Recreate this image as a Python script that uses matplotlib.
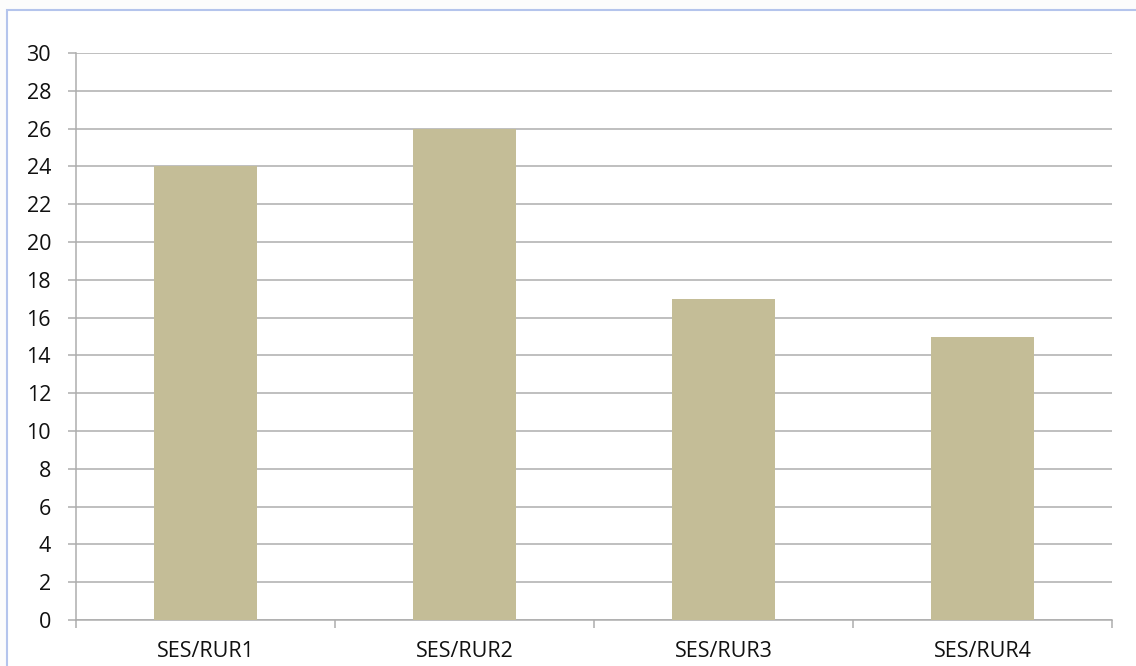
import matplotlib
matplotlib.use("Agg")
import matplotlib.pyplot as plt
from matplotlib.patches import Rectangle

categories = ["SES/RUR1", "SES/RUR2", "SES/RUR3", "SES/RUR4"]
values = [24, 26, 17, 15]
yticks = list(range(0, 31, 2))

plt.rcParams['font.family'] = ['Open Sans', 'DejaVu Sans']

W, H = 1136, 666
fig = plt.figure(figsize=(W / 100, H / 100), dpi=100)
fig.patch.set_facecolor('#FCFCFC')
fig.patches.append(Rectangle((6.5 / W, -0.1), 1.2, 1 - 10.5 / H + 0.1,
                             transform=fig.transFigure, facecolor='white',
                             edgecolor='#B4C4EC', linewidth=1.5, zorder=-10))

ax = fig.add_axes([76 / W, 1 - 620 / H, (1112 - 76) / W, (620 - 53) / H])
ax.set_facecolor('none')
x = list(range(len(categories)))
ax.bar(x, values, width=0.4, color='#C4BD97', zorder=3)
ax.set_xlim(-0.5, len(categories) - 0.5)
ax.set_ylim(0, 30)
ax.set_yticks(yticks)
ax.set_yticklabels([str(t) for t in yticks], fontsize=15.5, color='#111111')
ax.yaxis.grid(True, color='#ADADAD', linewidth=1.1, zorder=0)
ax.set_xticks(x)
ax.set_xticklabels(categories, fontsize=15.5, color='#111111')
ax.set_xticks([i - 0.5 for i in range(len(categories) + 1)], minor=True)
ax.tick_params(axis='x', which='major', length=0, pad=15)
ax.tick_params(axis='x', which='minor', length=5.5, color='#ADADAD', width=1.1)
ax.tick_params(axis='y', length=6, color='#ADADAD', width=1.1, pad=12)
for s in ['top', 'right']:
    ax.spines[s].set_visible(False)
for s in ['left', 'bottom']:
    ax.spines[s].set_color('#ADADAD')
    ax.spines[s].set_linewidth(1.1)

fig.savefig('out.png', dpi=100, facecolor=fig.get_facecolor())
